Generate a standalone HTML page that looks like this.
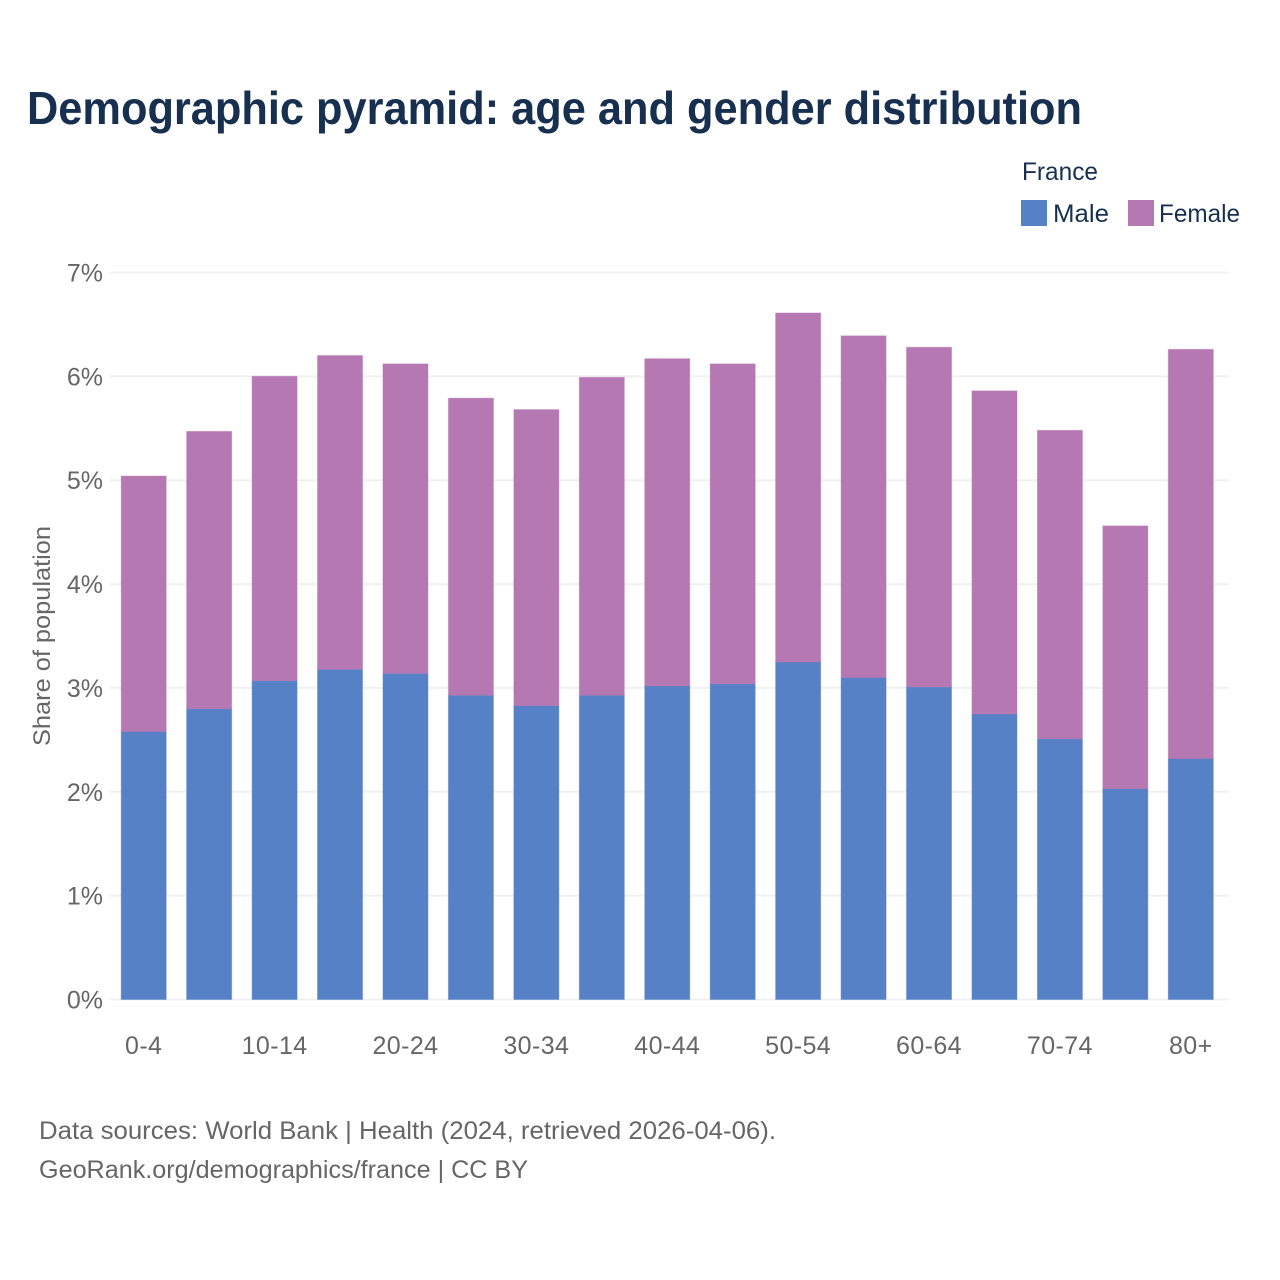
<!DOCTYPE html>
<html lang="en">
<head>
<meta charset="utf-8">
<title>Demographic pyramid: age and gender distribution</title>
<style>
html,body{margin:0;padding:0;background:#fff;}
svg{display:block;}
text{font-family:"Liberation Sans",sans-serif;}
</style>
</head>
<body>
<svg id="chart" width="1280" height="1280" viewBox="0 0 1280 1280" xmlns="http://www.w3.org/2000/svg">
  <rect x="0" y="0" width="1280" height="1280" fill="#ffffff"/>
  <text x="27" y="124" font-size="46" font-weight="700" fill="#17304f" textLength="1055" lengthAdjust="spacingAndGlyphs">Demographic pyramid: age and gender distribution</text>
  <g>
    <text x="1022" y="180" font-size="25" fill="#17304f" textLength="76" lengthAdjust="spacingAndGlyphs">France</text>
    <rect x="1021" y="200" width="26" height="26" fill="#5681c6"/>
    <text x="1053" y="222" font-size="25" fill="#17304f" textLength="56" lengthAdjust="spacingAndGlyphs">Male</text>
    <rect x="1128" y="200" width="26" height="26" fill="#b678b2"/>
    <text x="1159" y="222" font-size="25" fill="#17304f" textLength="81" lengthAdjust="spacingAndGlyphs">Female</text>
  </g>
  <g id="grid"></g>
  <g id="bars"></g>
  <g id="y-axis"></g>
  <g id="x-axis"></g>
  <text transform="translate(50,636) rotate(-90)" text-anchor="middle" font-size="24" fill="#666666" textLength="220" lengthAdjust="spacingAndGlyphs">Share of population</text>
  <text x="39" y="1139" font-size="25" fill="#666666" textLength="737" lengthAdjust="spacingAndGlyphs">Data sources: World Bank | Health (2024, retrieved 2026-04-06).</text>
  <text x="39" y="1178" font-size="25" fill="#666666" textLength="489" lengthAdjust="spacingAndGlyphs">GeoRank.org/demographics/france | CC BY</text>
</svg>
<script>
const categories = ["0-4","5-9","10-14","15-19","20-24","25-29","30-34","35-39","40-44","45-49","50-54","55-59","60-64","65-69","70-74","75-79","80+"];
const maleValues = [2.58,2.80,3.07,3.18,3.14,2.93,2.83,2.93,3.02,3.04,3.25,3.10,3.01,2.75,2.51,2.03,2.32];
const femaleValues = [2.46,2.67,2.93,3.02,2.98,2.86,2.85,3.06,3.15,3.08,3.36,3.29,3.27,3.11,2.97,2.53,3.94];
const yTicks = [0,1,2,3,4,5,6,7];

const NS = "http://www.w3.org/2000/svg";
const plot = { left: 110, right: 1229, y0: 999.5, y7: 272.5, firstCenter: 143.7, lastCenter: 1190.8, barWidth: 45 };
function yScale(v) {
  return plot.y0 + (plot.y7 - plot.y0) * v / 7;
}
function xScale(i) {
  return plot.firstCenter + (plot.lastCenter - plot.firstCenter) * i / (categories.length - 1);
}
function make(tag, attrs, parent) {
  const el = document.createElementNS(NS, tag);
  for (const k in attrs) el.setAttribute(k, attrs[k]);
  parent.appendChild(el);
  return el;
}
const gridG = document.getElementById("grid");
const barsG = document.getElementById("bars");
const yG = document.getElementById("y-axis");
const xG = document.getElementById("x-axis");

yTicks.forEach(function (t) {
  const line = make("line", { x1: plot.left, x2: plot.right, y1: yScale(t), y2: yScale(t), stroke: "#f0f0f0", "stroke-width": 2 }, gridG);
  
  
  const label = make("text", { x: 103, y: yScale(t) + 9, "text-anchor": "end", "font-size": 25, fill: "#666666" }, yG);
  
  
  label.textContent = t + "%";
});

categories.forEach(function (c, i) {
  const cx = xScale(i);
  const x = cx - plot.barWidth / 2;
  const m = maleValues[i];
  const f = femaleValues[i];
  const male = make("rect", { x: x, y: yScale(m), width: plot.barWidth, height: yScale(0) - yScale(m), fill: "#5681c6", stroke: "#5681c6", "stroke-opacity": 0.45, "stroke-width": 1 }, barsG);
  
  
  const female = make("rect", { x: x, y: yScale(m + f), width: plot.barWidth, height: yScale(m) - yScale(m + f), fill: "#b678b2", stroke: "#b678b2", "stroke-opacity": 0.45, "stroke-width": 1 }, barsG);
  
  
  if (i % 2 === 0) {
    const label = make("text", { x: cx, y: 1054, "text-anchor": "middle", "font-size": 25, "letter-spacing": 0.4, fill: "#666666" }, xG);
    
    
    label.textContent = c;
  }
});
</script>
</body>
</html>
